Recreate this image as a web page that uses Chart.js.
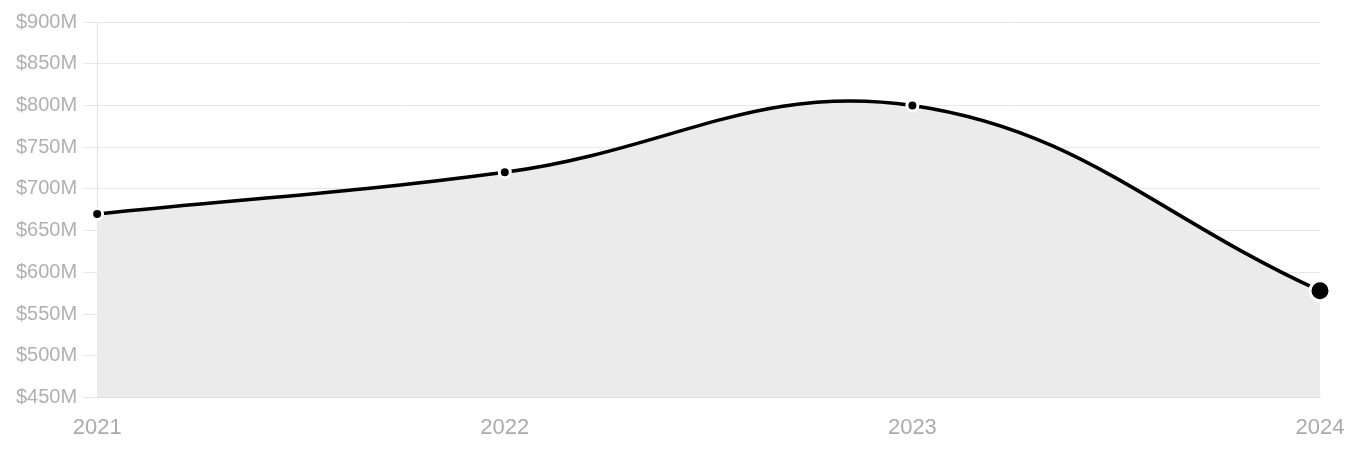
<!DOCTYPE html>
<html>
<head>
<meta charset="utf-8">
<script src="https://cdn.jsdelivr.net/npm/chart.js@4/dist/chart.umd.min.js"></script>
<style>
html,body{margin:0;padding:0;background:#fff;}
#wrap{position:relative;width:1358px;height:460px;}
</style>
</head>
<body>
<div id="wrap"><canvas id="c"></canvas></div>
<script>
const years = ['2021', '2022', '2023', '2024'];
const revenue = [670, 720, 800, 578];
const yMin = 450;
const yMax = 900;
const yStep = 50;

const lastIdx = revenue.length - 1;
new Chart(document.getElementById('c'), {
  type: 'line',
  data: {
    labels: years,
    datasets: [{
      data: revenue,
      borderColor: '#000',
      borderWidth: 3.5,
      backgroundColor: '#ebebeb',
      fill: 'start',
      tension: 0.4,
      pointBackgroundColor: '#000',
      pointBorderColor: '#fff',
      pointBorderWidth: 3,
      pointRadius: ctx => ctx.dataIndex === lastIdx ? 10 : 5.5
    }]
  },
  options: {
    responsive: true,
    maintainAspectRatio: false,
    animation: false,
    layout: { padding: { top: 22, right: 30, left: 10, bottom: 2 } },
    plugins: { legend: { display: false }, tooltip: { enabled: false } },
    scales: {
      x: {
        offset: false,
        grid: { display: false, drawTicks: false },
        border: { color: '#e0e0e0' },
        ticks: { color: '#ababab', font: { family: 'Liberation Sans', size: 22 }, padding: 17 },
        afterFit: scale => { scale.paddingRight = 38; }
      },
      y: {
        min: yMin, max: yMax,
        grid: { color: '#e8e8e8', tickLength: 14 },
        border: { color: '#e0e0e0' },
        ticks: {
          stepSize: yStep,
          color: '#b0b0b0',
          font: { family: 'Liberation Sans', size: 20 },
          padding: 6,
          callback: v => '$' + v + 'M'
        }
      }
    }
  }
});
</script>
</body>
</html>
